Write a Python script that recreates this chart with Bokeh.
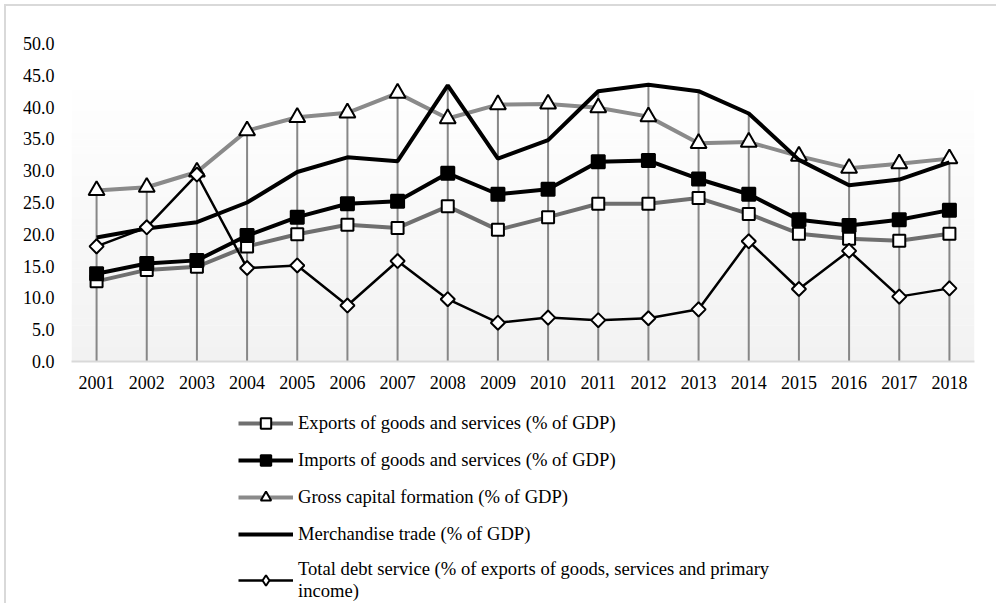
import numpy as np
from bokeh.plotting import figure
from bokeh.layouts import column
from bokeh.models import (Range1d, FactorRange, Legend, LegendItem, NumeralTickFormatter,
                          FixedTicker, BoxAnnotation)
from bokeh.embed import file_html
from bokeh.resources import INLINE

years = ["2001", "2002", "2003", "2004", "2005", "2006", "2007", "2008", "2009",
         "2010", "2011", "2012", "2013", "2014", "2015", "2016", "2017", "2018"]
exports = [12.6, 14.4, 14.9, 18.1, 20.0, 21.5, 21.0, 24.4, 20.7, 22.7, 24.8, 24.8, 25.7, 23.2, 20.1, 19.3, 19.0, 20.1]
imports = [13.8, 15.4, 15.9, 19.8, 22.7, 24.8, 25.2, 29.6, 26.3, 27.1, 31.4, 31.6, 28.7, 26.3, 22.3, 21.4, 22.3, 23.8]
gcf = [26.9, 27.4, 29.8, 36.3, 38.4, 39.1, 42.2, 38.2, 40.4, 40.5, 39.9, 38.5, 34.3, 34.5, 32.3, 30.4, 31.1, 31.9]
merch = [19.5, 20.9, 21.9, 25.0, 29.8, 32.1, 31.5, 43.4, 31.9, 34.8, 42.5, 43.5, 42.5, 39.0, 31.7, 27.7, 28.6, 31.3]
debt = [18.1, 21.1, 29.4, 14.7, 15.1, 8.8, 15.8, 9.8, 6.1, 6.9, 6.5, 6.8, 8.2, 18.9, 11.4, 17.4, 10.2, 11.5]
y_ticks = [0, 5, 10, 15, 20, 25, 30, 35, 40, 45, 50]

labels = [
    "Exports of goods and services (% of GDP)",
    "Imports of goods and services (% of GDP)",
    "Gross capital formation (% of GDP)",
    "Merchandise trade (% of GDP)",
    "Total debt service (% of exports of goods, services and primary\nincome)",
]

FONT = "Liberation Serif"
OFF = 6  # canvas offset caused by margin + border
H1 = 394
H2 = 597 - H1

p = figure(x_range=FactorRange(factors=years), y_range=Range1d(0, 50),
           width=990, height=H1, output_backend="svg", toolbar_location=None,
           min_border_left=71 - OFF, min_border_right=22, min_border_top=43 - OFF,
           min_border_bottom=H1 - (361 - OFF))
p.outline_line_color = None
p.background_fill_color = "white"
p.border_fill_color = "white"
p.xgrid.grid_line_color = None
p.ygrid.grid_line_color = None

# soft vertical gradient in the plot area (decoration)
nb = 40
edges = np.linspace(0, 45, nb + 1)
for i in range(nb):
    t = i / (nb - 1)
    c = int(round(242 + (255 - 242) * t))
    p.add_layout(BoxAnnotation(bottom=edges[i], top=edges[i + 1] + 0.05,
                               fill_color=(c, c, c), fill_alpha=1.0, line_alpha=0,
                               level="underlay"))

# drop lines from the highest value of each year down to the axis
top_vals = np.max(np.array([exports, imports, gcf, merch, debt]), axis=0)
p.segment(x0=years, y0=[0] * len(years), x1=years, y1=list(top_vals),
          line_color="#878787", line_width=2)

styles = [
    dict(line=dict(line_color="#6f6f6f", line_width=4),
         mark=dict(marker="square", size=12, fill_color="white", line_color="black", line_width=2)),
    dict(line=dict(line_color="black", line_width=4),
         mark=dict(marker="square", size=13, fill_color="black", line_color="black", line_width=2)),
    dict(line=dict(line_color="#8a8a8a", line_width=4),
         mark=dict(marker="triangle", size=16, fill_color="white", line_color="black", line_width=2)),
    dict(line=dict(line_color="black", line_width=4), mark=None),
    dict(line=dict(line_color="black", line_width=2.5),
         mark=dict(marker="square", angle=np.pi / 4, size=10, fill_color="white",
                   line_color="black", line_width=2)),
]
series = [exports, imports, gcf, merch, debt]

for vals, st in zip(series, styles):
    p.line(years, vals, **st["line"])
    if st["mark"]:
        p.scatter(years, vals, **st["mark"])

# axes
p.xaxis.axis_line_color = "#d9d9d9"
p.xaxis.axis_line_width = 2
p.xaxis.major_tick_line_color = None
p.xaxis.minor_tick_line_color = None
p.xaxis.major_label_text_font = FONT
p.xaxis.major_label_text_font_size = "18px"
p.xaxis.major_label_text_color = "black"
p.xaxis.major_label_standoff = 8

p.yaxis.axis_line_color = None
p.yaxis.major_tick_line_color = None
p.yaxis.minor_tick_line_color = None
p.yaxis.ticker = FixedTicker(ticks=y_ticks)
p.yaxis.formatter = NumeralTickFormatter(format="0.0")
p.yaxis.major_label_text_font = FONT
p.yaxis.major_label_text_font_size = "18px"
p.yaxis.major_label_text_color = "black"
p.yaxis.major_label_standoff = 11

# legend panel below the chart: the same series, drawn outside this panel's view,
# so only their legend entries show
p2 = figure(x_range=FactorRange(factors=years), y_range=Range1d(100, 101), width=990, height=H2,
            output_backend="svg", toolbar_location=None, x_axis_type=None, y_axis_type=None,
            min_border_left=71 - OFF, min_border_top=0, min_border_right=22, min_border_bottom=0)
p2.outline_line_color = None
p2.background_fill_color = "white"
p2.xgrid.grid_line_color = None
p2.ygrid.grid_line_color = None
items = []
for lab, vals, st in zip(labels, series, styles):
    rs = [p2.line(years, vals, **st["line"])]
    if st["mark"]:
        mk = dict(st["mark"])
        if "angle" in mk:  # legend swatches ignore angle: use a diamond shape instead
            mk.pop("angle")
            mk["marker"] = "diamond"
        rs.append(p2.scatter(years, vals, **mk))
    items.append(LegendItem(label=lab, renderers=rs))
legend = Legend(items=items, location=(238 - 71, 1), orientation="vertical",
                glyph_width=55, glyph_height=26, label_height=26, spacing=11, label_standoff=5,
                padding=0, margin=0, border_line_alpha=0, background_fill_alpha=0,
                label_text_font=FONT, label_text_font_size="18.6px", label_text_color="black")
p2.add_layout(legend, "center")

layout = column(p, p2, spacing=0)
layout.margin = (4, 0, 0, 4)
layout.styles = {"border-top": "2px solid #d9d9d9", "border-left": "2px solid #d9d9d9"}

open("out.html", "w").write(file_html(layout, INLINE))
